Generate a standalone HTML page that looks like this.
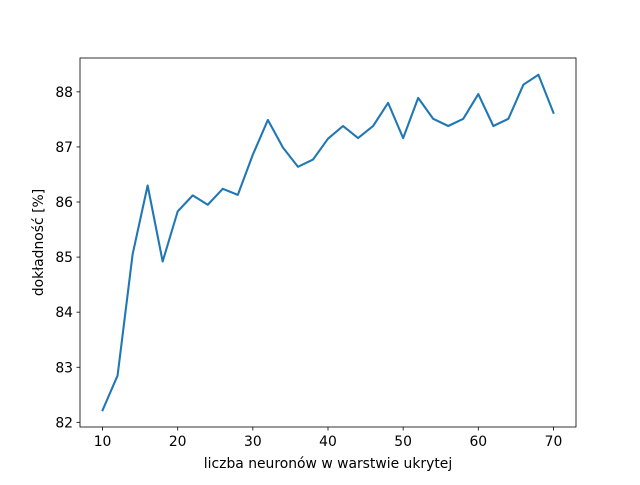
<!DOCTYPE html>
<html><head><meta charset="utf-8"><style>
body{margin:0;background:#fff;font-family:"Liberation Sans","DejaVu Sans",sans-serif;}
svg text{font-family:"DejaVu Sans","Liberation Sans",sans-serif;font-size:13.9px;fill:#000;}
</style></head><body>
<svg id="chart" width="640" height="480" xmlns="http://www.w3.org/2000/svg">
<rect x="0" y="0" width="640" height="480" fill="#fff"/>
<g id="plot"></g>
</svg>
<script>
const xValues=[10,12,14,16,18,20,22,24,26,28,30,32,34,36,38,40,42,44,46,48,50,52,54,56,58,60,62,64,66,68,70];
const yValues=[82.22,82.85,85.05,86.3,84.92,85.83,86.12,85.95,86.24,86.13,86.86,87.49,86.99,86.64,86.77,87.15,87.38,87.16,87.38,87.8,87.16,87.89,87.51,87.38,87.51,87.96,87.38,87.51,88.13,88.31,87.62];
const xTicks=[10,20,30,40,50,60,70];
const yTicks=[82,83,84,85,86,87,88];
const L=80,R=576,T=58,B=427;
const ns="http://www.w3.org/2000/svg";
const g=document.getElementById('plot');
const xmin=Math.min(...xValues),xmax=Math.max(...xValues),xr=xmax-xmin;
const ymin=Math.min(...yValues),ymax=Math.max(...yValues),yr=ymax-ymin;
const x0=xmin-0.05*xr,x1=xmax+0.05*xr,y0=ymin-0.05*yr,y1=ymax+0.05*yr;
const sx=v=>L+(v-x0)/(x1-x0)*(R-L);
const sy=v=>B-(v-y0)/(y1-y0)*(B-T);
function el(t,a){const e=document.createElementNS(ns,t);for(const k in a)e.setAttribute(k,a[k]);g.appendChild(e);return e;}
const pts=xValues.map((x,i)=>sx(x).toFixed(2)+','+sy(yValues[i]).toFixed(2)).join(' ');
const line=el('polyline',{points:pts,fill:'none',stroke:'#1f77b4','stroke-width':2.08,'stroke-linejoin':'round','stroke-linecap':'square'});


xTicks.forEach(v=>{const x=sx(v);
const tk=el('line',{x1:x,x2:x,y1:B,y2:B+3.5,stroke:'#000','stroke-width':0.8});


const t=el('text',{x:x,y:B+19,'text-anchor':'middle'});t.textContent=v;

});
yTicks.forEach(v=>{const y=sy(v);
const tk=el('line',{x1:L-3.5,x2:L,y1:y,y2:y,stroke:'#000','stroke-width':0.8});


const t=el('text',{x:L-7,y:y+5,'text-anchor':'end'});t.textContent=v;

});
const fr=el('rect',{x:L,y:T,width:R-L,height:B-T,fill:'none',stroke:'#000','stroke-width':0.8});


const xl=el('text',{x:(L+R)/2,y:468,'text-anchor':'middle'});xl.textContent='liczba neuronów w warstwie ukrytej';


const yl=el('text',{x:0,y:0,'text-anchor':'middle',transform:`translate(43,${(T+B)/2}) rotate(-90)`});yl.textContent='dokładność [%]';


</script>
</body></html>
